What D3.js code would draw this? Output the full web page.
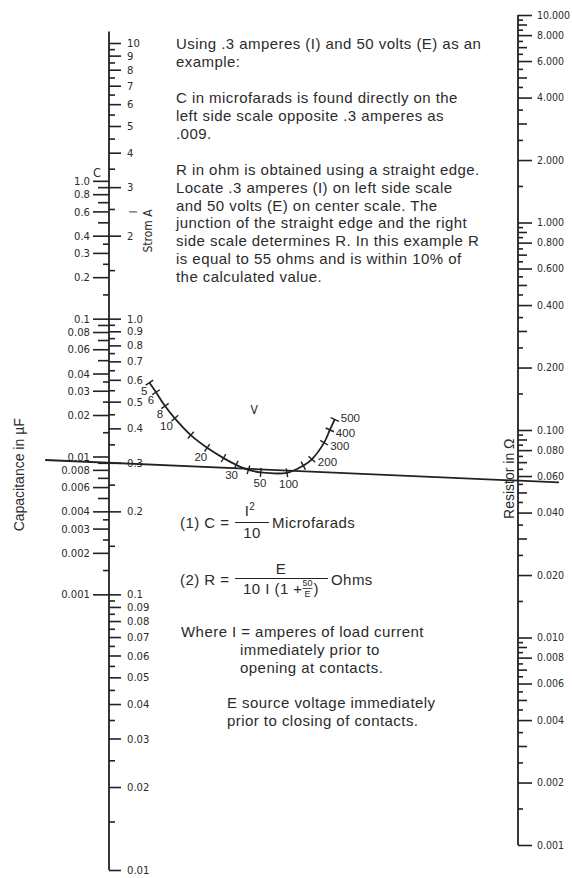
<!DOCTYPE html>
<html>
<head>
<meta charset="utf-8">
<script src="https://cdn.jsdelivr.net/npm/d3@7"></script>
<style>
body { margin: 0; background: #fff; }
svg { display: block; }
text { fill: #2b2b2b; font-family: "Liberation Sans", Arial, sans-serif; }
.body text { font-size: 15px; letter-spacing: 0.45px; }
.narrow { font-family: "Liberation Sans Narrow", "DejaVu Sans Condensed", sans-serif; }
.tick-i text { font-size: 11.2px; font-family: "Liberation Sans Narrow", "DejaVu Sans Condensed", sans-serif; }
.tick-c text { font-size: 11.2px; font-family: "Liberation Sans Narrow", "DejaVu Sans Condensed", sans-serif; }
.tick-r text { font-size: 10.5px; font-family: "Liberation Sans Narrow", "DejaVu Sans Condensed", sans-serif; }
</style>
</head>
<body>
<div id="chart"></div>
<script>
var width = 572, height = 878;

// current I (right side of left scale)
var iMajor = [10, 9, 8, 7, 6, 5, 4, 3, 2, 1, 0.9, 0.8, 0.7, 0.6, 0.5, 0.4, 0.3, 0.2, 0.1,
	0.09, 0.08, 0.07, 0.06, 0.05, 0.04, 0.03, 0.02, 0.01];
var iLabels = ["10", "9", "8", "7", "6", "5", "4", "3", "2", "1.0", "0.9", "0.8", "0.7", "0.6", "0.5", "0.4", "0.3", "0.2", "0.1",
	"0.09", "0.08", "0.07", "0.06", "0.05", "0.04", "0.03", "0.02", "0.01"];
var iMinor = [9.5, 8.5, 7.5, 6.5, 5.5, 4.5, 3.5, 2.5, 1.5, 0.95, 0.85, 0.75, 0.65, 0.55, 0.45, 0.35, 0.25, 0.15,
	0.095, 0.085, 0.075, 0.065, 0.055, 0.045, 0.035, 0.025, 0.015];

// capacitance C (left side of left scale)
var cMajor = [1, 0.8, 0.6, 0.4, 0.3, 0.2, 0.1, 0.08, 0.06, 0.04, 0.03, 0.02, 0.01, 0.008, 0.006, 0.004, 0.003, 0.002, 0.001];
var cLabels = ["1.0", "0.8", "0.6", "0.4", "0.3", "0.2", "0.1", "0.08", "0.06", "0.04", "0.03", "0.02", "0.01",
	"0.008", "0.006", "0.004", "0.003", "0.002", "0.001"];
var cMid = [0.9, 0.7, 0.5, 0.09, 0.07, 0.05, 0.009, 0.007, 0.005];
var cMinor = [0.35, 0.25, 0.15, 0.035, 0.025, 0.015, 0.0035, 0.0025, 0.0015];

// resistor R (right scale)
var rMajor = [10, 8, 6, 4, 2, 1, 0.8, 0.6, 0.4, 0.2, 0.1, 0.08, 0.06, 0.04, 0.02, 0.01, 0.008, 0.006, 0.004, 0.002, 0.001];
var rLabels = ["10.000", "8.000", "6.000", "4.000", "2.000", "1.000", "0.800", "0.600", "0.400", "0.200", "0.100",
	"0.080", "0.060", "0.040", "0.020", "0.010", "0.008", "0.006", "0.004", "0.002", "0.001"];
var rMid = [9, 7, 5, 3, 0.9, 0.7, 0.5, 0.3, 0.09, 0.07, 0.05, 0.03, 0.009, 0.007, 0.005, 0.003];
var rMinor = [9.5, 8.5, 7.5, 6.5, 5.5, 4.5, 3.5, 2.5, 1.5, 0.95, 0.85, 0.75, 0.65, 0.55, 0.45, 0.35, 0.25, 0.15,
	0.095, 0.085, 0.075, 0.065, 0.055, 0.045, 0.035, 0.025, 0.015,
	0.0095, 0.0085, 0.0075, 0.0065, 0.0055, 0.0045, 0.0035, 0.0025, 0.0015];

// voltage E on the curved centre scale
// eAcross: fraction of the way from left scale to right scale
// eLevel: reading of the left (current) scale at the same height
var eValues = [5, 6, 8, 10, 15, 20, 25, 30, 40, 50, 100, 150, 200, 300, 400, 500];
var eLabels = ["5", "6", "8", "10", "", "20", "", "30", "", "50", "100", "", "200", "300", "400", "500"];
var eAcross = [0.099, 0.115, 0.137, 0.161, 0.200, 0.240, 0.280, 0.311, 0.341, 0.371, 0.435, 0.475, 0.496, 0.526, 0.540, 0.552];
var eLevel = [0.586, 0.541, 0.482, 0.435, 0.378, 0.340, 0.312, 0.295, 0.283, 0.277, 0.276, 0.293, 0.309, 0.355, 0.395, 0.431];

// the straight edge of the worked example
var exampleI = 0.3, exampleR = 0.057;

var introLines = ["Using .3 amperes (I) and 50 volts (E) as an", "example:"];
var cLines = ["C in microfarads is found directly on the", "left side scale opposite .3 amperes as", ".009."];
var rLines = ["R in ohm is obtained using a straight edge.", "Locate .3 amperes (I) on left side scale",
	"and 50 volts (E) on center scale. The", "junction of the straight edge and the right",
	"side scale determines R. In this example R", "is equal to 55 ohms and is within 10% of", "the calculated value."];
var whereLines = ["immediately prior to", "opening at contacts."];
var sourceLines = ["E source voltage immediately", "prior to closing of contacts."];

var ink = "#222";
var leftX = 109, rightX = 518;

var svg = d3.select("#chart").append("svg")
	.attr("width", width)
	.attr("height", height)
	.attr("viewBox", [0, 0, width, height]);

var yI = d3.scaleLog().domain([0.01, 10]).range([870, 43]);
// C = I^2 / 10 shares the same line
var yC = d3.scaleLog().domain([0.00001, 10]).range([870, 43]);
var yR = d3.scaleLog().domain([0.001, 10]).range([845, 15]);
var u = d3.scaleLinear().domain([0, 1]).range([leftX, rightX]);

function ticks(axis, x, cls) {
	var g = svg.append("g")
		.attr("class", cls)
		.attr("transform", `translate(${x},0)`)
		.call(axis);
	g.select(".domain").remove();
	g.attr("font-family", null).attr("font-size", null);
	g.selectAll("line").attr("stroke", ink).attr("stroke-width", 1.6);
	g.selectAll("text").attr("fill", null);
	return g;
}

// left scale
svg.append("line")
	.attr("x1", leftX).attr("x2", leftX)
	.attr("y1", yI(11)).attr("y2", yI(0.01))
	.attr("stroke", ink).attr("stroke-width", 1.8);

ticks(d3.axisRight(yI).tickValues(iMajor).tickSize(12).tickPadding(6)
	.tickFormat((d, i) => iLabels[i]), leftX, "tick-i");
ticks(d3.axisRight(yI).tickValues(iMinor).tickSize(6).tickFormat(""), leftX, "tick-i");

ticks(d3.axisLeft(yC).tickValues(cMajor).tickSize(16).tickPadding(3)
	.tickFormat((d, i) => cLabels[i]), leftX, "tick-c");
ticks(d3.axisLeft(yC).tickValues(cMid).tickSize(11).tickFormat(""), leftX, "tick-c");
ticks(d3.axisLeft(yC).tickValues(cMinor).tickSize(6).tickFormat(""), leftX, "tick-c");

// right scale
svg.append("line")
	.attr("x1", rightX).attr("x2", rightX)
	.attr("y1", yR(10)).attr("y2", yR(0.001))
	.attr("stroke", ink).attr("stroke-width", 1.8);

ticks(d3.axisRight(yR).tickValues(rMajor).tickSize(14).tickPadding(5)
	.tickFormat((d, i) => rLabels[i]), rightX, "tick-r");
ticks(d3.axisRight(yR).tickValues(rMid).tickSize(9).tickFormat(""), rightX, "tick-r");
ticks(d3.axisRight(yR).tickValues(rMinor).tickSize(5).tickFormat(""), rightX, "tick-r");

// scale names
svg.append("text")
	.attr("transform", `translate(24,${yI(0.3) + 12}) rotate(-90)`)
	.attr("text-anchor", "middle")
	.style("font-size", "14px")
	.text("Capacitance in \u00b5F");

svg.append("text")
	.attr("transform", `translate(514,${yR(0.057) - 2}) rotate(-90)`)
	.attr("text-anchor", "middle")
	.style("font-size", "14px")
	.text("Resistor in \u03a9");

svg.append("text")
	.attr("class", "narrow")
	.attr("transform", `translate(152,${yI(2.08)}) rotate(-90)`)
	.attr("text-anchor", "middle")
	.style("font-size", "12px")
	.text("Strom A");

svg.append("text")
	.attr("class", "narrow")
	.attr("transform", `translate(137,${yI(2.44)}) rotate(-90)`)
	.attr("text-anchor", "middle")
	.style("font-size", "10px")
	.text("I");

svg.append("text")
	.attr("class", "narrow")
	.attr("x", leftX - 12).attr("y", yC(1) - 4)
	.attr("text-anchor", "middle")
	.style("font-size", "12.5px")
	.text("C");

// centre voltage curve
var pts = eValues.map((e, i) => ({
	e: e,
	label: eLabels[i],
	x: u(eAcross[i]),
	y: yI(eLevel[i])
}));

var last = pts.length - 1;
pts.forEach((p, i) => {
	var a = pts[Math.max(0, i - 1)], b = pts[Math.min(last, i + 1)];
	var tx = b.x - a.x, ty = b.y - a.y, len = Math.hypot(tx, ty);
	p.nx = -ty / len;
	p.ny = tx / len;
	p.anchor = p.nx > 0.7 ? "start" : p.nx < -0.7 ? "end" : "middle";
	// label offset from its tick
	if (p.anchor === "end") { p.lx = -2; p.ly = 8; }
	else if (p.anchor === "start") { p.lx = 6; p.ly = i === last ? -1 : 3; }
	else { p.lx = p.nx * 11; p.ly = p.ny * 11; }
});

svg.append("path")
	.attr("d", d3.line().x(d => d.x).y(d => d.y).curve(d3.curveCatmullRom)(pts))
	.attr("fill", "none")
	.attr("stroke", ink)
	.attr("stroke-width", 1.8);

svg.append("g")
	.selectAll("line")
	.data(pts)
	.join("line")
	.attr("x1", d => d.x - d.nx * 4.5)
	.attr("y1", d => d.y - d.ny * 4.5)
	.attr("x2", d => d.x + d.nx * 4.5)
	.attr("y2", d => d.y + d.ny * 4.5)
	.attr("stroke", ink)
	.attr("stroke-width", 1.4);

svg.append("g")
	.attr("class", "narrow")
	.style("font-size", "11.5px")
	.selectAll("text")
	.data(pts.filter(d => d.label))
	.join("text")
	.attr("text-anchor", d => d.anchor)
	.attr("x", d => d.x + d.lx)
	.attr("y", d => d.y + d.ly)
	.attr("dy", "0.35em")
	.text(d => d.label);

svg.append("text")
	.attr("class", "narrow")
	.attr("x", u(0.355)).attr("y", yI(0.45))
	.attr("text-anchor", "middle")
	.style("font-size", "12px")
	.text("V");

// straight edge through I = 0.3 and R = 0.057
var edge = d3.scaleLinear().domain([0, 1]).range([yI(exampleI), yR(exampleR)]);
svg.append("line")
	.attr("x1", u(-0.156)).attr("y1", edge(-0.156))
	.attr("x2", u(1.1)).attr("y2", edge(1.1))
	.attr("stroke", ink)
	.attr("stroke-width", 1.8);

// explanatory text
var notes = svg.append("g").attr("class", "body");

function para(lines, x, y0, lh) {
	lines.forEach((t, i) => {
		notes.append("text").attr("x", x).attr("y", y0 + i * lh).text(t);
	});
}

para(introLines, 176, 49, 18);
para(cLines, 176, 103, 17.8);
para(rLines, 176, 175, 17.8);

// formula (1)
notes.append("text").attr("x", 180).attr("y", 528).text("(1) C =");
notes.append("text").attr("x", 250).attr("y", 516).attr("text-anchor", "middle")
	.text("I").append("tspan").attr("dy", -6).style("font-size", "10px").text("2");
notes.append("line").attr("x1", 235).attr("x2", 269).attr("y1", 522.5).attr("y2", 522.5)
	.attr("stroke", ink).attr("stroke-width", 1.1);
notes.append("text").attr("x", 252).attr("y", 538).attr("text-anchor", "middle").text("10");
notes.append("text").attr("x", 272).attr("y", 528).text("Microfarads");

// formula (2)
notes.append("text").attr("x", 180).attr("y", 585).text("(2) R =");
notes.append("text").attr("x", 281).attr("y", 574).attr("text-anchor", "middle").text("E");
notes.append("line").attr("x1", 235).attr("x2", 328).attr("y1", 578.5).attr("y2", 578.5)
	.attr("stroke", ink).attr("stroke-width", 1.1);
var den = notes.append("text").attr("x", 243).attr("y", 594).text("10 I (1 + ");
var dx = 243 + den.node().getComputedTextLength();
notes.append("text").attr("x", dx + 5).attr("y", 586).attr("text-anchor", "middle")
	.style("font-size", "9px").style("letter-spacing", "0px").text("50");
notes.append("line").attr("x1", dx).attr("x2", dx + 10).attr("y1", 588.5).attr("y2", 588.5)
	.attr("stroke", ink).attr("stroke-width", 0.8);
notes.append("text").attr("x", dx + 5).attr("y", 597).attr("text-anchor", "middle")
	.style("font-size", "9px").style("letter-spacing", "0px").text("E");
notes.append("text").attr("x", dx + 11).attr("y", 594).text(")");
notes.append("text").attr("x", 331).attr("y", 585).text("Ohms");

notes.append("text").attr("x", 181).attr("y", 637).text("Where I = amperes of load current");
para(whereLines, 240, 655, 18);
para(sourceLines, 227, 708, 18);
</script>
</body>
</html>
